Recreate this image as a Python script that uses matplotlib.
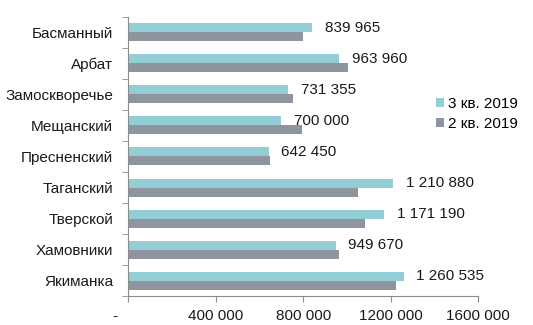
import numpy as np
import matplotlib
matplotlib.use("Agg")
import matplotlib.pyplot as plt

plt.rcParams['font.family'] = ['Liberation Sans', 'DejaVu Sans']

districts = ['Басманный', 'Арбат', 'Замоскворечье', 'Мещанский', 'Пресненский',
             'Таганский', 'Тверской', 'Хамовники', 'Якиманка']
q3_2019 = [839965, 963960, 731355, 700000, 642450, 1210880, 1171190, 949670, 1260535]
q2_2019 = [800000, 1005000, 755000, 795000, 650000, 1050000, 1082000, 965000, 1225000]
value_labels = ['839 965', '963 960', '731 355', '700 000', '642 450',
                '1 210 880', '1 171 190', '949 670', '1 260 535']
x_ticks = [0, 400000, 800000, 1200000, 1600000]
x_tick_labels = ['-      ', '400 000', '800 000', '1200 000', '1600 000']

cyan = '#93cdd6'
grey = '#8f959f'
axis_col = '#8c8c8c'
fs = 11

fig = plt.figure(figsize=(5.33, 3.25), dpi=100)
ax = fig.add_axes([0.241, 0.089, 0.656, 0.859])

y = np.arange(len(districts))
h = 0.29
ax.barh(y - h / 2, q3_2019, height=h, color=cyan, label='3 кв. 2019')
ax.barh(y + h / 2, q2_2019, height=h, color=grey, label='2 кв. 2019')

for yi, v, lab in zip(y, q3_2019, value_labels):
    ax.annotate(lab, (v, yi - h / 2), xytext=(9, 0), textcoords='offset points',
                va='center', ha='left', fontsize=fs, color='#1a1a1a')

ax.set_ylim(len(districts) - 0.5, -0.5)
ax.set_xlim(0, 1600000)
ax.set_yticks(y)
ax.set_yticklabels(districts, fontsize=fs, color='#1a1a1a')
ax.set_yticks(np.arange(-0.5, len(districts)), minor=True)
ax.tick_params(axis='y', which='major', length=0, pad=11)
ax.tick_params(axis='y', which='minor', length=4, color=axis_col)
ax.set_xticks(x_ticks)
ax.set_xticklabels(x_tick_labels, fontsize=fs, color='#1a1a1a')
ax.tick_params(axis='x', length=4, color=axis_col, pad=5)

for s in ['top', 'right']:
    ax.spines[s].set_visible(False)
for s in ['left', 'bottom']:
    ax.spines[s].set_color(axis_col)
    ax.spines[s].set_linewidth(0.8)

ax.legend(loc='upper left', bbox_to_anchor=(0.862, 0.735), frameon=False,
          fontsize=fs, handlelength=0.5, handleheight=0.5, handletextpad=0.3,
          labelspacing=0.4, borderaxespad=0)

fig.savefig('out.png', dpi=100)
